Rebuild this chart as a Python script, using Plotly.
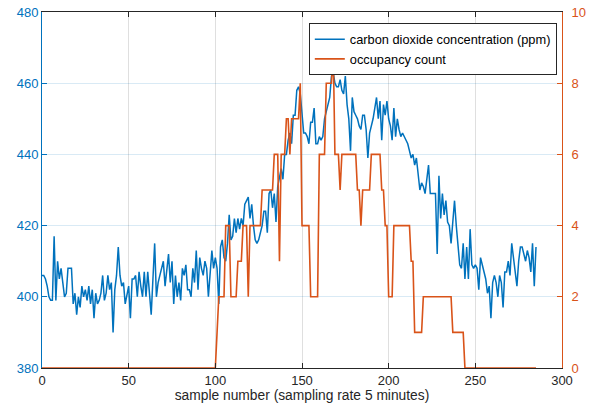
import plotly.graph_objects as go

# ---- data ----
co2_ppm = [
    406, 406, 405, 403, 400, 399, 399, 417, 399, 410,
    405, 408, 404, 400, 401, 408, 408, 408, 398, 401,
    395, 400, 397, 403, 400, 402, 399, 403, 398, 402,
    394, 401, 398, 399, 401, 406, 399, 401, 406, 402,
    404, 390, 402, 406, 414, 406, 403, 404, 398, 401,
    403, 394, 405, 405, 406, 400, 407, 403, 400, 407,
    400, 407, 400, 395, 405, 415, 400, 404, 406, 408,
    410, 403, 408, 412, 404, 410, 398, 406, 400, 404,
    399, 408, 406, 409, 402, 402, 400, 408, 404, 413,
    402, 411, 408, 406, 410, 408, 400, 406, 413, 408,
    411, 408, 398, 414, 416, 411, 410, 415, 423, 416,
    417, 422, 418, 422, 419, 422, 420, 426, 427, 428,
    422, 426, 420, 416, 415, 416, 418, 420, 424, 424,
    418, 429, 430, 425, 429, 421, 431, 434, 436, 433,
    440, 440, 444, 446, 443, 451, 451, 458, 459, 457,
    450, 446, 446, 445, 443, 449, 449, 453, 443, 443,
    445, 444, 445, 450, 452, 454, 456, 462, 463, 460,
    459, 459, 461, 458, 457, 462, 454, 450, 441, 456,
    452, 451, 450, 448, 447, 451, 451, 447, 439, 446,
    448, 450, 453, 456, 450, 455, 444, 454, 451, 455,
    450, 448, 444, 453, 445, 450, 447, 445, 446, 445,
    444, 443, 441, 439, 440, 437, 439, 434, 430, 432,
    431, 429, 434, 437, 429, 429, 429, 429, 412, 434,
    422, 429, 423, 427, 421, 420, 415, 422, 427, 420,
    415, 409, 408, 415, 405, 414, 405, 419, 409, 408,
    409, 408, 402, 411, 409, 407, 405, 401, 403, 394,
    404, 406, 404, 400, 406, 404, 397, 407, 407, 410,
    406, 415, 411, 407, 403, 410, 414, 414, 412, 410,
    413, 411, 407, 415, 403, 414,
]

occupancy_count = [
    0, 0, 0, 0, 0, 0, 0, 0, 0, 0,
    0, 0, 0, 0, 0, 0, 0, 0, 0, 0,
    0, 0, 0, 0, 0, 0, 0, 0, 0, 0,
    0, 0, 0, 0, 0, 0, 0, 0, 0, 0,
    0, 0, 0, 0, 0, 0, 0, 0, 0, 0,
    0, 0, 0, 0, 0, 0, 0, 0, 0, 0,
    0, 0, 0, 0, 0, 0, 0, 0, 0, 0,
    0, 0, 0, 0, 0, 0, 0, 0, 0, 0,
    0, 0, 0, 0, 0, 0, 0, 0, 0, 0,
    0, 0, 0, 0, 0, 0, 0, 0, 0, 0,
    0, 1, 2, 2, 2, 2, 4, 4, 4, 2,
    2, 2, 2, 3, 3, 3, 4, 4, 4, 2,
    4, 4, 4, 4, 4, 4, 4, 5, 5, 5,
    5, 5, 5, 5, 6, 6, 6, 3, 6, 6,
    6, 7, 7, 6, 7, 7, 7, 7, 7, 8,
    4, 4, 4, 4, 4, 2, 2, 2, 2, 2,
    6, 6, 6, 6, 8, 8, 8, 8, 9, 6,
    6, 6, 5, 6, 6, 6, 6, 6, 6, 6,
    6, 6, 5, 5, 4, 5, 5, 5, 5, 5,
    6, 6, 6, 6, 6, 6, 5, 5, 4, 4,
    2, 2, 2, 4, 4, 4, 4, 4, 4, 4,
    4, 4, 4, 3, 3, 1, 1, 1, 1, 1,
    2, 2, 2, 2, 2, 2, 2, 2, 2, 2,
    2, 2, 2, 2, 2, 2, 2, 1, 1, 1,
    1, 1, 1, 1, 0, 0, 0, 0, 0, 0,
    0, 0, 0, 0, 0, 0, 0, 0, 0, 0,
    0, 0, 0, 0, 0, 0, 0, 0, 0, 0,
    0, 0, 0, 0, 0, 0, 0, 0, 0, 0,
    0, 0, 0, 0, 0, 0,
]

x_ticks = [0, 50, 100, 150, 200, 250, 300]
co2_ticks = [380, 400, 420, 440, 460, 480]
occ_ticks = [0, 2, 4, 6, 8, 10]

co2_name = "carbon dioxide concentration (ppm)"
occ_name = "occupancy count"
x_title = "sample number (sampling rate 5 minutes)"

BLUE = "#0072BD"
ORANGE = "#D95319"
DARK = "#262626"

sample_co2 = list(range(len(co2_ppm)))
sample_occ = list(range(len(occupancy_count)))

fig = go.Figure()
fig.add_trace(go.Scatter(
    x=sample_co2, y=co2_ppm, mode="lines", name=co2_name,
    line=dict(color=BLUE, width=1.5), yaxis="y"))
fig.add_trace(go.Scatter(
    x=sample_occ, y=occupancy_count, mode="lines", name=occ_name,
    line=dict(color=ORANGE, width=1.6), yaxis="y2"))

fig.update_layout(
    width=590, height=405,
    margin=dict(l=42, r=28, t=12, b=37, autoexpand=False),
    paper_bgcolor="white", plot_bgcolor="white",
    font=dict(family="Liberation Sans, Arial, sans-serif", size=13, color=DARK),
    xaxis=dict(
        range=[0, 300], tickvals=x_ticks, ticks="inside", ticklen=5,
        tickcolor=DARK, showline=True, linecolor=DARK, linewidth=1,
        mirror="ticks", showgrid=True, gridcolor="rgba(38,38,38,0.15)",
        zeroline=False, tickfont=dict(color=DARK, size=13), automargin=False,
        title=dict(text=x_title, standoff=3, font=dict(size=13.8, color=DARK)),
    ),
    yaxis=dict(
        range=[380, 480], tickvals=co2_ticks, ticks="inside", ticklen=5,
        tickcolor=BLUE, showline=True, linecolor=BLUE, linewidth=1,
        tickfont=dict(color=BLUE, size=13), showgrid=True, automargin=False,
        gridcolor="rgba(0,114,189,0.15)", zeroline=False,
    ),
    yaxis2=dict(
        range=[0, 10], tickvals=occ_ticks, overlaying="y", side="right",
        ticks="inside", ticklen=5, tickcolor=ORANGE, showline=True,
        linecolor=ORANGE, linewidth=1, tickfont=dict(color=ORANGE, size=13),
        showgrid=False, zeroline=False, automargin=False,
        ticklabelstandoff=6,
    ),
    legend=dict(
        x=0.99, y=0.968, xanchor="right", yanchor="top",
        bordercolor=DARK, borderwidth=1, bgcolor="white",
        font=dict(size=12.8, color="black"), itemwidth=30, tracegroupgap=0,
    ),
    showlegend=True,
)

fig.write_html("out.html")
